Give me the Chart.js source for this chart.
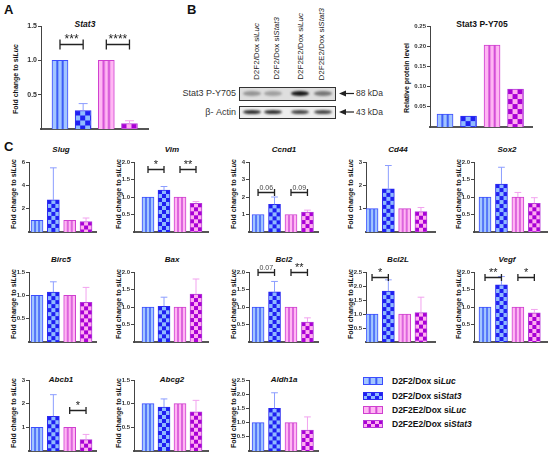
<!DOCTYPE html>
<html>
<head>
<meta charset="utf-8">
<script src="https://cdn.jsdelivr.net/npm/chart.js@4.4.1/dist/chart.umd.min.js"></script>
<style>
    html, body { margin: 0; padding: 0; background: #fff; }
    #fig { position: relative; width: 550px; height: 455px; overflow: hidden;
           font-family: "Liberation Sans", Arial, sans-serif; color: #111; }
    #fig canvas { position: absolute; }
    .t { position: absolute; white-space: nowrap; line-height: 1; }
    .panel { font-weight: bold; font-size: 13px; }
    .gene { font-weight: bold; font-style: italic; font-size: 8px; transform: translate(-50%, -50%); }
    .ylab { font-weight: bold; font-size: 7px; transform: translate(-50%, -50%) rotate(-90deg); }
    .lane { font-size: 8px; writing-mode: vertical-rl; transform: rotate(180deg); color: #222; }
    .blot { font-size: 8.5px; color: #333; }
    .legend { font-weight: bold; font-size: 8.5px; transform: translate(0, -50%); }
</style>
</head>
<body>
<div id="fig"></div>
<script>
// Groupes (ordre de la légende)
const groups = ['D2F2/Dox siLuc', 'D2F2/Dox siStat3', 'D2F2E2/Dox siLuc', 'D2F2E2/Dox siStat3'];

// Panneau A : Stat3 (fold change to siLuc)
const stat3Fold = [1.0, 0.27, 1.0, 0.08];
const stat3Sd = [0, 0.10, 0, 0.04];

// Panneau B : Stat3 P-Y705 (niveau relatif) + intensités du blot
const py705Level = [0.032, 0.027, 0.203, 0.094];
const blotStat3 = [0.35, 0.30, 0.95, 0.50];
const blotActin = [0.85, 0.85, 0.75, 0.75];

// Panneau C : gènes
const genes = ['Slug', 'Vim', 'Ccnd1', 'Cd44', 'Sox2', 'Birc5', 'Bax', 'Bcl2', 'Bcl2L', 'Vegf', 'Abcb1', 'Abcg2', 'Aldh1a'];
const foldD2f2Luc    = [1, 1, 1, 1, 1, 1, 1, 1, 1, 1, 1, 1, 1];
const foldD2f2Stat3  = [2.75, 1.20, 1.58, 1.85, 1.37, 1.07, 1.02, 1.43, 1.82, 1.63, 1.47, 0.93, 1.50];
const foldD2f2e2Luc  = [1, 1, 1, 1, 1, 1, 1, 1, 1, 1, 1, 1, 1];
const foldD2f2e2Stat3 = [0.90, 0.82, 1.14, 0.87, 0.82, 0.85, 1.37, 0.57, 1.05, 0.83, 0.48, 0.83, 0.74];
const sdD2f2Luc      = [0, 0, 0, 0, 0, 0, 0, 0, 0, 0, 0, 0, 0];
const sdD2f2Stat3    = [2.75, 0.10, 0.42, 1.00, 0.48, 0.22, 0.26, 0.30, 0.40, 0.24, 0.91, 0.17, 0.55];
const sdD2f2e2Luc    = [0, 0, 0, 0, 0.13, 0, 0, 0, 0, 0, 0, 0, 0];
const sdD2f2e2Stat3  = [0.30, 0.05, 0.11, 0.18, 0.16, 0.32, 0.43, 0.12, 0.55, 0.10, 0.22, 0.24, 0.46];
const geneYMax  = [6, 2, 4, 3, 2, 1.5, 2, 2, 2.5, 2, 3, 1.5, 2.5];
const geneYStep = [2, 0.5, 1, 1, 0.5, 0.5, 0.5, 0.5, 0.5, 0.5, 1, 0.5, 0.5];

// Comparaisons (barre de -> barre à, hauteur en unités de l'axe)
const stat3Marks = [
    { from: 0, to: 1, y: 1.24, label: '***' },
    { from: 2, to: 3, y: 1.24, label: '****' }
];
const geneMarks = [
    { gene: 'Vim',   from: 0, to: 1, y: 1.80, label: '*' },
    { gene: 'Vim',   from: 2, to: 3, y: 1.80, label: '**' },
    { gene: 'Ccnd1', from: 0, to: 1, y: 2.30, label: '0.06' },
    { gene: 'Ccnd1', from: 2, to: 3, y: 2.30, label: '0.09' },
    { gene: 'Bcl2',  from: 0, to: 1, y: 2.00, label: '0.07' },
    { gene: 'Bcl2',  from: 2, to: 3, y: 2.00, label: '**' },
    { gene: 'Bcl2L', from: 0, to: 1, y: 2.33, label: '*' },
    { gene: 'Vegf',  from: 0, to: 1, y: 1.86, label: '**' },
    { gene: 'Vegf',  from: 2, to: 3, y: 1.86, label: '*' },
    { gene: 'Abcb1', from: 2, to: 3, y: 1.73, label: '*' }
];

const FONT = '"Liberation Sans", Arial, sans-serif';
Chart.defaults.font.family = FONT;

// Styles des 4 groupes : rayures / damier
const groupStyle = [
    { kind: 'stripe', c1: '#a3c6ff', c2: '#3d5cf7', border: '#3b4cff', err: '#8c9dff' },
    { kind: 'check',  c1: '#8fbaff', c2: '#1f1ff2', border: '#2a2af0', err: '#8c9dff' },
    { kind: 'stripe', c1: '#ffb6f3', c2: '#d24ad6', border: '#cf3fd0', err: '#f2a3ef' },
    { kind: 'check',  c1: '#ffaef0', c2: '#a900d6', border: '#b43ad8', err: '#f2a3ef' }
];

const fig = document.getElementById('fig');

function addText(html, cls, x, y, style) {
    const d = document.createElement('div');
    d.className = 't ' + cls;
    d.style.left = x + 'px';
    d.style.top = y + 'px';
    if (style) Object.assign(d.style, style);
    d.innerHTML = html;
    fig.appendChild(d);
    return d;
}

// "siLuc" -> "si<i>Luc</i>"
function italicSi(s) {
    return s.replace(/si(\w+)$/, 'si<i>$1</i>');
}

function makeTile(ctx, st, bw, sq) {
    const cv = document.createElement('canvas');
    const g = cv.getContext('2d');
    if (st.kind === 'stripe') {
        cv.width = bw; cv.height = 4;
        g.fillStyle = st.c1;
        g.fillRect(0, 0, bw, 4);
        g.fillStyle = st.c2;
        const sw = bw > 13 ? 2 : 1.5;
        [bw / 3, 2 * bw / 3].forEach(x => g.fillRect(x - sw / 2, 0, sw, 4));
    } else {
        sq = sq || Math.round(bw / 3);
        cv.width = cv.height = sq * 2;
        g.fillStyle = st.c1;
        g.fillRect(0, 0, sq * 2, sq * 2);
        g.fillStyle = st.c2;
        g.fillRect(0, 0, sq, sq);
        g.fillRect(sq, sq, sq, sq);
    }
    return ctx.createPattern(cv, 'repeat');
}

// Aligne chaque motif sur le coin haut-gauche de sa barre
const alignPatterns = {
    id: 'alignPatterns',
    beforeDatasetsDraw(chart) {
        const fills = chart.data.datasets[0].backgroundColor;
        chart.getDatasetMeta(0).data.forEach((el, i) => {
            fills[i].setTransform(new DOMMatrix([1, 0, 0, 1, el.x - el.width / 2, el.y]));
        });
    }
};

function barChart(o) {
    const yw = 26, pt = 24, pb = 8, pr = 3;
    const w = yw + (o.axisEnd - o.axisX) + pr;
    const h = pt + (o.zeroY - o.topY) + pb;
    const cv = document.createElement('canvas');
    cv.width = w; cv.height = h;
    cv.style.left = (o.axisX - yw) + 'px';
    cv.style.top = (o.topY - pt) + 'px';
    fig.appendChild(cv);
    const ctx = cv.getContext('2d');
    const fills = groupStyle.map(st => makeTile(ctx, st, o.bw));

    // barres d'erreur (SD, vers le haut) et crochets de significativité
    const overlay = {
        id: 'overlay',
        afterDatasetsDraw(chart) {
            const g = chart.ctx;
            const ys = chart.scales.y;
            const bars = chart.getDatasetMeta(0).data;
            g.save();
            bars.forEach((el, i) => {
                const sd = o.sds[i];
                if (!sd) return;
                const top = ys.getPixelForValue(o.values[i] + sd);
                const half = o.bw * 0.28;
                g.strokeStyle = groupStyle[i].err;
                g.lineWidth = 1;
                g.beginPath();
                g.moveTo(el.x, el.y);
                g.lineTo(el.x, top);
                g.moveTo(el.x - half, top);
                g.lineTo(el.x + half, top);
                g.stroke();
            });
            (o.marks || []).forEach(m => {
                const x1 = bars[m.from].x, x2 = bars[m.to].x;
                const y = Math.round(ys.getPixelForValue(m.y)) + 0.5;
                g.strokeStyle = '#222';
                g.lineWidth = 1.3;
                g.beginPath();
                g.moveTo(x1, y); g.lineTo(x2, y);
                g.moveTo(x1, y - o.cap); g.lineTo(x1, y + o.cap);
                g.moveTo(x2, y - o.cap); g.lineTo(x2, y + o.cap);
                g.stroke();
                const stars = m.label.indexOf('*') >= 0;
                g.fillStyle = stars ? '#222' : '#444';
                g.font = (stars ? o.starSize : 7) + 'px ' + FONT;
                g.textAlign = 'center';
                g.textBaseline = 'alphabetic';
                g.fillText(m.label, (x1 + x2) / 2, stars ? y - 1.5 : y - 3);
            });
            g.restore();
        }
    };

    return new Chart(ctx, {
        type: 'bar',
        data: {
            datasets: [{
                data: o.values.map((v, i) => ({ x: i, y: v })),
                backgroundColor: fills,
                borderColor: groupStyle.map(st => st.border),
                borderWidth: 1,
                barThickness: o.bw
            }]
        },
        options: {
            responsive: false,
            animation: false,
            events: [],
            layout: { padding: { top: pt, bottom: pb, left: 0, right: pr } },
            plugins: { legend: { display: false }, tooltip: { enabled: false } },
            scales: {
                x: {
                    type: 'linear',
                    offset: false,
                    min: o.xMin,
                    max: o.xMax,
                    ticks: { display: false },
                    grid: { display: false },
                    border: { color: '#555', width: 2 },
                    afterFit: s => { s.height = 0; }
                },
                y: {
                    min: 0,
                    max: o.yMax,
                    ticks: {
                        stepSize: o.yStep,
                        padding: 1,
                        color: '#333',
                        font: { size: o.tick, weight: 'bold' },
                        callback: v => v.toFixed(o.dec)
                    },
                    grid: { drawOnChartArea: false, tickLength: 3, color: '#444' },
                    border: { color: '#444', width: 1 },
                    afterFit: s => { s.width = yw; },
                    afterBuildTicks: s => { s.ticks = s.ticks.filter(t => t.value > 0); }
                }
            }
        },
        plugins: [alignPatterns, overlay]
    });
}

function decimalsFor(step) {
    return step < 0.1 ? 2 : (step < 1 ? 1 : 0);
}

// ---------- Panneau A ----------
addText('A', 'panel', 4, 3);
addText('Stat3', 'gene', 85, 24, { fontSize: '8.5px' });
addText('Fold change to si<i>Luc</i>', 'ylab', 15, 79);
barChart({
    axisX: 41, axisEnd: 148, topY: 25.5, zeroY: 128.5,
    yMax: 1.5, yStep: 0.5, dec: 1, tick: 7,
    xMin: -0.82, xMax: 3.8, bw: 16,
    values: stat3Fold, sds: stat3Sd, marks: stat3Marks, cap: 5, starSize: 12
});

// ---------- Panneau B ----------
addText('B', 'panel', 187, 3);
groups.forEach((g, i) => {
    const lane = addText(italicSi(g), 'lane', [253, 273, 297, 318][i], 0);
    lane.style.top = '';
    lane.style.bottom = (455 - 80) + 'px';
});
addText('Stat3 P-Y705', 'blot', 236, 93, { transform: 'translate(-100%, -50%)', fontSize: '9px' });
addText('β- Actin', 'blot', 236, 112, { transform: 'translate(-100%, -50%)', fontSize: '9px' });
addText('88 kDa', 'blot', 356, 93, { transform: 'translate(0, -50%)' });
addText('43 kDa', 'blot', 356, 112, { transform: 'translate(0, -50%)' });

(function drawBlot() {
    const cv = document.createElement('canvas');
    cv.width = 120; cv.height = 36;
    cv.style.left = '238px';
    cv.style.top = '84px';
    fig.appendChild(cv);
    const g = cv.getContext('2d');
    const laneX = [14, 35, 62, 85];
    const rows = [
        { y: 3, h: 13, bg: '#dedede', levels: blotStat3, bandH: 2.6 },
        { y: 22, h: 12, bg: '#eeeeee', levels: blotActin, bandH: 2.0 }
    ];
    rows.forEach(r => {
        g.fillStyle = r.bg;
        g.fillRect(2, r.y, 95, r.h);
        g.save();
        g.filter = 'blur(1px)';
        r.levels.forEach((v, i) => {
            g.fillStyle = 'rgba(15,15,15,' + v + ')';
            g.beginPath();
            g.ellipse(laneX[i], r.y + r.h / 2, 9, r.bandH, 0, 0, Math.PI * 2);
            g.fill();
        });
        g.restore();
        g.strokeStyle = '#333';
        g.lineWidth = 1;
        g.strokeRect(1.5, r.y + 0.5, 96, r.h);
        // flèche
        const ay = r.y + r.h / 2;
        g.fillStyle = '#222';
        g.beginPath();
        g.moveTo(101, ay);
        g.lineTo(108, ay - 3);
        g.lineTo(108, ay + 3);
        g.closePath();
        g.fill();
        g.fillRect(107, ay - 0.6, 9, 1.2);
    });
})();

addText('Stat3 P-Y705', 'gene', 482, 24, { fontStyle: 'normal', fontSize: '8.5px' });
addText('Relative protein level', 'ylab', 406, 78);
barChart({
    axisX: 430, axisEnd: 532, topY: 26, zeroY: 127.5,
    yMax: 0.25, yStep: 0.05, dec: 2, tick: 6,
    xMin: -0.64, xMax: 3.7, bw: 16,
    values: py705Level, sds: [0, 0, 0, 0], marks: [], cap: 4, starSize: 11
});

// ---------- Panneau C ----------
addText('C', 'panel', 4, 140);

const colAxis = [29, 134, 249, 366, 474];
const colEnd = [96, 208, 318, 435, 547];
const colXMin = [-0.49, -0.875, -0.55, -0.37, -0.67];
const colXMax = [3.61, 3.75, 3.64, 3.86, 3.77];
const colTitleX = [61, 172, 284, 398, 507];
const rowTop = [162, 271.5, 380];
const rowZero = [232.5, 342, 451];
const rowTitleY = [150, 260, 380];

genes.forEach((gene, k) => {
    const col = k % 5, row = Math.floor(k / 5);
    addText(gene, 'gene', colTitleX[col], rowTitleY[row]);
    addText('Fold change to si<i>Luc</i>', 'ylab', colAxis[col] - 16, (rowTop[row] + rowZero[row]) / 2 - 3);
    barChart({
        axisX: colAxis[col], axisEnd: colEnd[col], topY: rowTop[row], zeroY: rowZero[row],
        yMax: geneYMax[k], yStep: geneYStep[k], dec: decimalsFor(geneYStep[k]), tick: 6,
        xMin: colXMin[col], xMax: colXMax[col], bw: 12,
        values: [foldD2f2Luc[k], foldD2f2Stat3[k], foldD2f2e2Luc[k], foldD2f2e2Stat3[k]],
        sds: [sdD2f2Luc[k], sdD2f2Stat3[k], sdD2f2e2Luc[k], sdD2f2e2Stat3[k]],
        marks: geneMarks.filter(m => m.gene === gene),
        cap: 3.5, starSize: 11
    });
});

// ---------- Légende ----------
const legendY = [381, 395.5, 410, 424];
groups.forEach((g, i) => {
    const cv = document.createElement('canvas');
    cv.width = 20; cv.height = 8;
    cv.style.left = '363px';
    cv.style.top = (legendY[i] - 4) + 'px';
    fig.appendChild(cv);
    const c = cv.getContext('2d');
    c.fillStyle = makeTile(c, groupStyle[i], 20, 4);
    c.fillRect(0, 0, 20, 8);
    c.strokeStyle = groupStyle[i].border;
    c.lineWidth = 1;
    c.strokeRect(0.5, 0.5, 19, 7);
    addText(italicSi(g), 'legend', 392, legendY[i]);
});
</script>
</body>
</html>
